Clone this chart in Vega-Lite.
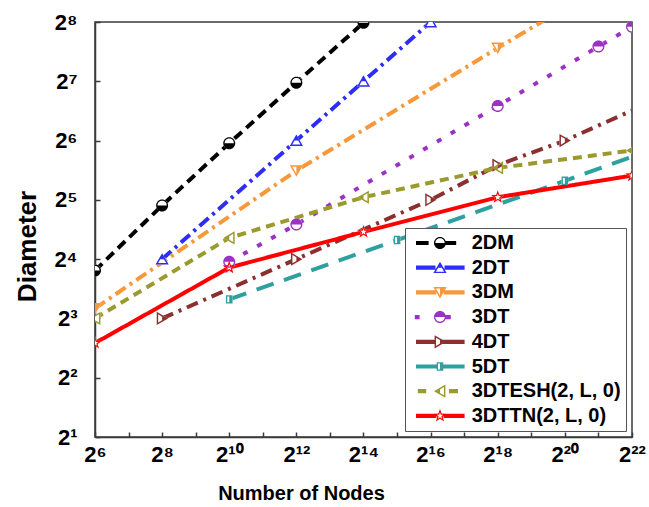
{
  "$schema": "https://vega.github.io/schema/vega-lite/v6.json",
  "width": 537,
  "height": 415,
  "autosize": {"type": "none"},
  "padding": {"left": 95, "top": 22, "right": 17, "bottom": 70},
  "background": "white",
  "config": {
    "view": {"stroke": "#3a3a3a", "strokeWidth": 1.5},
    "font": "Liberation Sans",
    "axis": {
      "grid": false,
      "domainColor": "#3a3a3a",
      "domainWidth": 1.5,
      "tickColor": "#3a3a3a",
      "tickWidth": 1.5,
      "tickSize": -5,
      "labelFont": "Liberation Sans",
      "labelFontSize": 22,
      "labelFontWeight": "bold",
      "labelColor": "black",
      "titleFont": "Liberation Sans",
      "titleFontWeight": "bold",
      "titleColor": "black"
    },
    "legend": {
      "orient": "bottom-right",
      "offset": 6,
      "padding": 5,
      "strokeColor": "#555555",
      "strokeWidth": 1,
      "fillColor": "white",
      "labelFont": "Liberation Sans",
      "labelFontSize": 20,
      "labelFontWeight": "bold",
      "labelColor": "black",
      "labelLimit": 400,
      "symbolSize": 2304,
      "symbolOffset": 6,
      "labelOffset": 7.7,
      "clipHeight": 20,
      "rowPadding": 4.7,
      "symbolStrokeWidth": 0,
      "symbolStrokeColor": "transparent",
      "symbolOpacity": 1
    }
  },
  "datasets": {
    "lines": [
      {"series": "2DM", "nodes": 64, "diameter": 14},
      {"series": "2DM", "nodes": 256, "diameter": 30},
      {"series": "2DM", "nodes": 1024, "diameter": 62},
      {"series": "2DM", "nodes": 4096, "diameter": 126},
      {"series": "2DM", "nodes": 16384, "diameter": 254},
      {"series": "2DT", "nodes": 256, "diameter": 16},
      {"series": "2DT", "nodes": 4096, "diameter": 64},
      {"series": "2DT", "nodes": 16384, "diameter": 128},
      {"series": "2DT", "nodes": 65536, "diameter": 256},
      {"series": "3DM", "nodes": 64, "diameter": 9},
      {"series": "3DM", "nodes": 4096, "diameter": 45},
      {"series": "3DM", "nodes": 262144, "diameter": 189},
      {"series": "3DM", "nodes": 2097152, "diameter": 381},
      {"series": "3DT", "nodes": 1024, "diameter": 15.5},
      {"series": "3DT", "nodes": 4096, "diameter": 24},
      {"series": "3DT", "nodes": 262144, "diameter": 96},
      {"series": "3DT", "nodes": 2097152, "diameter": 192},
      {"series": "3DT", "nodes": 4194304, "diameter": 242},
      {"series": "4DT", "nodes": 256, "diameter": 8},
      {"series": "4DT", "nodes": 4096, "diameter": 16},
      {"series": "4DT", "nodes": 65536, "diameter": 32},
      {"series": "4DT", "nodes": 262144, "diameter": 48},
      {"series": "4DT", "nodes": 1048576, "diameter": 64},
      {"series": "4DT", "nodes": 4194304, "diameter": 91},
      {"series": "5DT", "nodes": 1024, "diameter": 10},
      {"series": "5DT", "nodes": 32768, "diameter": 20},
      {"series": "5DT", "nodes": 1048576, "diameter": 40},
      {"series": "5DT", "nodes": 4194304, "diameter": 53},
      {"series": "3DTESH(2, L, 0)", "nodes": 64, "diameter": 8},
      {"series": "3DTESH(2, L, 0)", "nodes": 1024, "diameter": 20.5},
      {"series": "3DTESH(2, L, 0)", "nodes": 16384, "diameter": 33},
      {"series": "3DTESH(2, L, 0)", "nodes": 262144, "diameter": 46.5},
      {"series": "3DTESH(2, L, 0)", "nodes": 4194304, "diameter": 57},
      {"series": "3DTTN(2, L, 0)", "nodes": 64, "diameter": 6},
      {"series": "3DTTN(2, L, 0)", "nodes": 1024, "diameter": 14.5},
      {"series": "3DTTN(2, L, 0)", "nodes": 16384, "diameter": 22},
      {"series": "3DTTN(2, L, 0)", "nodes": 262144, "diameter": 33},
      {"series": "3DTTN(2, L, 0)", "nodes": 4194304, "diameter": 42.5}
    ],
    "markers": [
      {"series": "2DM", "nodes": 64, "diameter": 14},
      {"series": "2DM", "nodes": 256, "diameter": 30},
      {"series": "2DM", "nodes": 1024, "diameter": 62},
      {"series": "2DM", "nodes": 4096, "diameter": 126},
      {"series": "2DM", "nodes": 16384, "diameter": 254},
      {"series": "2DT", "nodes": 256, "diameter": 16},
      {"series": "2DT", "nodes": 4096, "diameter": 64},
      {"series": "2DT", "nodes": 16384, "diameter": 128},
      {"series": "2DT", "nodes": 65536, "diameter": 256},
      {"series": "3DM", "nodes": 64, "diameter": 9},
      {"series": "3DM", "nodes": 4096, "diameter": 45},
      {"series": "3DM", "nodes": 262144, "diameter": 189},
      {"series": "3DT", "nodes": 1024, "diameter": 15.5},
      {"series": "3DT", "nodes": 4096, "diameter": 24},
      {"series": "3DT", "nodes": 262144, "diameter": 96},
      {"series": "3DT", "nodes": 2097152, "diameter": 192},
      {"series": "3DT", "nodes": 4194304, "diameter": 242},
      {"series": "4DT", "nodes": 256, "diameter": 8},
      {"series": "4DT", "nodes": 4096, "diameter": 16},
      {"series": "4DT", "nodes": 65536, "diameter": 32},
      {"series": "4DT", "nodes": 262144, "diameter": 48},
      {"series": "4DT", "nodes": 1048576, "diameter": 64},
      {"series": "5DT", "nodes": 1024, "diameter": 10},
      {"series": "5DT", "nodes": 32768, "diameter": 20},
      {"series": "5DT", "nodes": 1048576, "diameter": 40},
      {"series": "3DTESH(2, L, 0)", "nodes": 64, "diameter": 8},
      {"series": "3DTESH(2, L, 0)", "nodes": 1024, "diameter": 20.5},
      {"series": "3DTESH(2, L, 0)", "nodes": 16384, "diameter": 33},
      {"series": "3DTESH(2, L, 0)", "nodes": 262144, "diameter": 46.5},
      {"series": "3DTESH(2, L, 0)", "nodes": 4194304, "diameter": 57},
      {"series": "3DTTN(2, L, 0)", "nodes": 64, "diameter": 6},
      {"series": "3DTTN(2, L, 0)", "nodes": 1024, "diameter": 14.5},
      {"series": "3DTTN(2, L, 0)", "nodes": 16384, "diameter": 22},
      {"series": "3DTTN(2, L, 0)", "nodes": 262144, "diameter": 33},
      {"series": "3DTTN(2, L, 0)", "nodes": 4194304, "diameter": 42.5}
    ]
  },
  "encoding": {
    "x": {
      "field": "nodes",
      "type": "quantitative",
      "scale": {"type": "log", "base": 2, "domain": [64, 4194304]},
      "axis": {
        "values": [64, 128, 256, 512, 1024, 2048, 4096, 8192, 16384, 32768, 65536, 131072, 262144, 524288, 1048576, 2097152, 4194304],
        "labelExpr": "round(log(datum.value)/LN2) % 2 == 1 ? '' : '2' + (round(log(datum.value)/LN2) >= 10 ? substring('⁰¹²³⁴⁵⁶⁷⁸⁹', floor(round(log(datum.value)/LN2)/10), floor(round(log(datum.value)/LN2)/10)+1) : '') + substring('⁰¹²³⁴⁵⁶⁷⁸⁹', round(log(datum.value)/LN2) % 10, round(log(datum.value)/LN2) % 10 + 1)",
        "labelPadding": 12,
        "labelFlush": false,
        "labelOverlap": false,
        "title": "Number of Nodes",
        "titleFontSize": 20,
        "titleX": 206,
        "titleY": 62,
        "titleBaseline": "alphabetic"
      }
    },
    "y": {
      "field": "diameter",
      "type": "quantitative",
      "scale": {"type": "log", "base": 2, "domain": [2, 256]},
      "axis": {
        "values": [2, 4, 8, 16, 32, 64, 128, 256],
        "labelExpr": "'2' + substring('⁰¹²³⁴⁵⁶⁷⁸⁹', round(log(datum.value)/LN2) % 10, round(log(datum.value)/LN2) % 10 + 1)",
        "labelPadding": 23,
        "labelFlush": false,
        "labelOverlap": false,
        "title": "Diameter",
        "titleFontSize": 26,
        "titleAngle": -90,
        "titleX": -60,
        "titleY": 224,
        "titleAlign": "center",
        "titleBaseline": "alphabetic"
      }
    }
  },
  "layer": [
    {
      "data": {"name": "lines"},
      "mark": {"type": "line", "strokeWidth": 4, "clip": true},
      "encoding": {
        "stroke": {
          "field": "series",
          "type": "nominal",
          "scale": {
            "domain": ["2DM", "2DT", "3DM", "3DT", "4DT", "5DT", "3DTESH(2, L, 0)", "3DTTN(2, L, 0)"],
            "range": ["#000000", "#2d2df5", "#f7983a", "#9c32c4", "#8e2f2f", "#2f9f9f", "#9a9a2e", "#ff0000"]
          },
          "legend": null
        },
        "strokeDash": {
          "field": "series",
          "type": "nominal",
          "scale": {
            "domain": ["2DM", "2DT", "3DM", "3DT", "4DT", "5DT", "3DTESH(2, L, 0)", "3DTTN(2, L, 0)"],
            "range": [[10, 6], [12, 5, 3, 5], [12, 5, 3, 5], [5, 11], [12, 6, 3, 6], [18, 11], [9, 6], [1, 0]]
          },
          "legend": null
        }
      }
    },
    {
      "data": {"name": "markers"},
      "mark": {"type": "point", "filled": true, "fill": "white", "opacity": 1, "size": 144, "strokeWidth": 0, "clip": true},
      "encoding": {
        "shape": {
          "field": "series",
          "type": "nominal",
          "scale": {
            "domain": ["2DM", "2DT", "3DM", "3DT", "4DT", "5DT", "3DTESH(2, L, 0)", "3DTTN(2, L, 0)"],
            "range": [
              "circle",
              "M 0 -1 L 1.1 0.9 L -1.1 0.9 Z",
              "M -1.1 -0.9 L 1.1 -0.9 L 0 1 Z",
              "circle",
              "M -0.9 -1.1 L 1 0 L -0.9 1.1 Z",
              "M -0.55 -0.7 L 0.55 -0.7 L 0.55 0.7 L -0.55 0.7 Z",
              "M 0.9 -1.1 L 0.9 1.1 L -1 0 Z",
              "M 0 -1.15 L 0.276 -0.38 L 1.094 -0.355 L 0.447 0.145 L 0.676 0.93 L 0 0.47 L -0.676 0.93 L -0.447 0.145 L -1.094 -0.355 L -0.276 -0.38 Z"
            ]
          },
          "legend": null
        }
      }
    },
    {
      "data": {"name": "markers"},
      "mark": {"type": "point", "filled": true, "opacity": 1, "size": 144, "strokeWidth": 0, "clip": true},
      "encoding": {
        "fill": {
          "field": "series",
          "type": "nominal",
          "scale": {
            "domain": ["2DM", "2DT", "3DM", "3DT", "4DT", "5DT", "3DTESH(2, L, 0)", "3DTTN(2, L, 0)"],
            "range": ["#000000", "#2d2df5", "#f7983a", "#9c32c4", "#8e2f2f", "#2f9f9f", "#9a9a2e", "#ff0000"]
          },
          "legend": null
        },
        "shape": {
          "field": "series",
          "type": "nominal",
          "scale": {
            "domain": ["2DM", "2DT", "3DM", "3DT", "4DT", "5DT", "3DTESH(2, L, 0)", "3DTTN(2, L, 0)"],
            "range": [
              "M -1 0 A 1 1 0 1 1 1 0 A 1 1 0 1 1 -1 0 Z M 0.78 0 A 0.78 0.78 0 0 0 -0.78 0 Z",
              "M 0 -1 L 1.1 0.9 L -1.1 0.9 Z M -0.3 0 L -0.68 0.66 L 0.68 0.66 L 0.3 0 Z",
              "M -1.1 -0.9 L 1.1 -0.9 L 0 1 Z M -0.68 -0.66 L 0 0.52 L 0 -0.66 Z",
              "M -1 0 A 1 1 0 1 1 1 0 A 1 1 0 1 1 -1 0 Z M -0.78 0 A 0.78 0.78 0 0 0 0.78 0 Z",
              "M -0.9 -1.1 L 1 0 L -0.9 1.1 Z M -0.66 -0.68 L -0.66 0.68 L 0 0.3 L 0 -0.3 Z",
              "M -0.55 -0.7 L 0.55 -0.7 L 0.55 0.7 L -0.55 0.7 Z M -0.33 -0.48 L -0.33 0.48 L 0 0.48 L 0 -0.48 Z",
              "M 0.9 -1.1 L 0.9 1.1 L -1 0 Z M 0.66 -0.68 L 0 -0.3 L 0 0.3 L 0.66 0.68 Z",
              "M 0 -1.15 L 0.276 -0.38 L 1.094 -0.355 L 0.447 0.145 L 0.676 0.93 L 0 0.47 L -0.676 0.93 L -0.447 0.145 L -1.094 -0.355 L -0.276 -0.38 Z M 0 -0.575 L -0.138 -0.19 L -0.547 -0.178 L -0.224 0.073 L -0.338 0.465 L 0 0.235 L 0.338 0.465 L 0.224 0.073 L 0.547 -0.178 L 0.138 -0.19 Z"
            ]
          },
          "legend": null
        }
      }
    },
    {
      "data": {"name": "markers"},
      "mark": {"type": "point", "filled": true, "opacity": 0, "size": 144, "strokeWidth": 0},
      "encoding": {
        "fill": {
          "field": "series",
          "type": "nominal",
          "scale": {
            "domain": ["2DM", "2DT", "3DM", "3DT", "4DT", "5DT", "3DTESH(2, L, 0)", "3DTTN(2, L, 0)"],
            "range": ["#000000", "#2d2df5", "#f7983a", "#9c32c4", "#8e2f2f", "#2f9f9f", "#9a9a2e", "#ff0000"]
          },
          "legend": {"title": null, "labelExpr": "datum.label + '\u00a0'"}
        },
        "shape": {
          "field": "series",
          "type": "nominal",
          "scale": {
            "domain": ["2DM", "2DT", "3DM", "3DT", "4DT", "5DT", "3DTESH(2, L, 0)", "3DTTN(2, L, 0)"],
            "range": [
              "M -1 -0.0875 L -0.475 -0.0875 L -0.475 0.0875 L -1 0.0875 Z M 0.2375 -0.0875 L 0.675 -0.0875 L 0.675 0.0875 L 0.2375 0.0875 Z M -0.25 0 A 0.25 0.25 0 1 1 0.25 0 A 0.25 0.25 0 1 1 -0.25 0 Z M 0.195 0 A 0.195 0.195 0 0 0 -0.195 0 Z",
              "M -1 -0.0875 L -0.1875 -0.0875 L -0.1875 0.0875 L -1 0.0875 Z M 0.1875 -0.0875 L 1.025 -0.0875 L 1.025 0.0875 L 0.1875 0.0875 Z M 0 -0.25 L 0.275 0.225 L -0.275 0.225 Z M -0.075 0 L -0.17 0.165 L 0.17 0.165 L 0.075 0 Z",
              "M -1 -0.0875 L -0.15 -0.0875 L -0.15 0.0875 L -1 0.0875 Z M 0.15 -0.0875 L 1.025 -0.0875 L 1.025 0.0875 L 0.15 0.0875 Z M -0.275 -0.225 L 0.275 -0.225 L 0 0.25 Z M -0.17 -0.165 L 0 0.13 L 0 -0.165 Z",
              "M -1.05 -0.0875 L -0.85 -0.0875 L -0.85 0.0875 L -1.05 0.0875 Z M 0.225 -0.0875 L 0.45 -0.0875 L 0.45 0.0875 L 0.225 0.0875 Z M -0.25 0 A 0.25 0.25 0 1 1 0.25 0 A 0.25 0.25 0 1 1 -0.25 0 Z M -0.195 0 A 0.195 0.195 0 0 0 0.195 0 Z",
              "M -1 -0.0875 L -0.2125 -0.0875 L -0.2125 0.0875 L -1 0.0875 Z M 0.1125 -0.0875 L 1.025 -0.0875 L 1.025 0.0875 L 0.1125 0.0875 Z M -0.225 -0.275 L 0.25 0 L -0.225 0.275 Z M -0.165 -0.17 L -0.165 0.17 L 0 0.075 L 0 -0.075 Z",
              "M -1 -0.0875 L -0.125 -0.0875 L -0.125 0.0875 L -1 0.0875 Z M 0.125 -0.0875 L 1.025 -0.0875 L 1.025 0.0875 L 0.125 0.0875 Z M -0.1375 -0.175 L 0.1375 -0.175 L 0.1375 0.175 L -0.1375 0.175 Z M -0.0825 -0.12 L -0.0825 0.12 L 0 0.12 L 0 -0.12 Z",
              "M -0.925 -0.0875 L -0.575 -0.0875 L -0.575 0.0875 L -0.925 0.0875 Z M 0.375 -0.0875 L 0.75 -0.0875 L 0.75 0.0875 L 0.375 0.0875 Z M 0.225 -0.275 L 0.225 0.275 L -0.25 0 Z M 0.165 -0.17 L 0 -0.075 L 0 0.075 L 0.165 0.17 Z",
              "M -1 -0.0875 L -0.15 -0.0875 L -0.15 0.0875 L -1 0.0875 Z M 0.15 -0.0875 L 1.025 -0.0875 L 1.025 0.0875 L 0.15 0.0875 Z M 0 -0.2875 L 0.069 -0.095 L 0.2735 -0.0888 L 0.1118 0.0363 L 0.169 0.2325 L 0 0.1175 L -0.169 0.2325 L -0.1118 0.0363 L -0.2735 -0.0888 L -0.069 -0.095 Z M 0 -0.1438 L -0.0345 -0.0475 L -0.1368 -0.0445 L -0.056 0.0183 L -0.0845 0.1163 L 0 0.0588 L 0.0845 0.1163 L 0.056 0.0183 L 0.1368 -0.0445 L 0.0345 -0.0475 Z"
            ]
          },
          "legend": {"title": null, "labelExpr": "datum.label + '\u00a0'"}
        }
      }
    }
  ],
  "resolve": {"scale": {"shape": "independent", "fill": "independent"}}
}
